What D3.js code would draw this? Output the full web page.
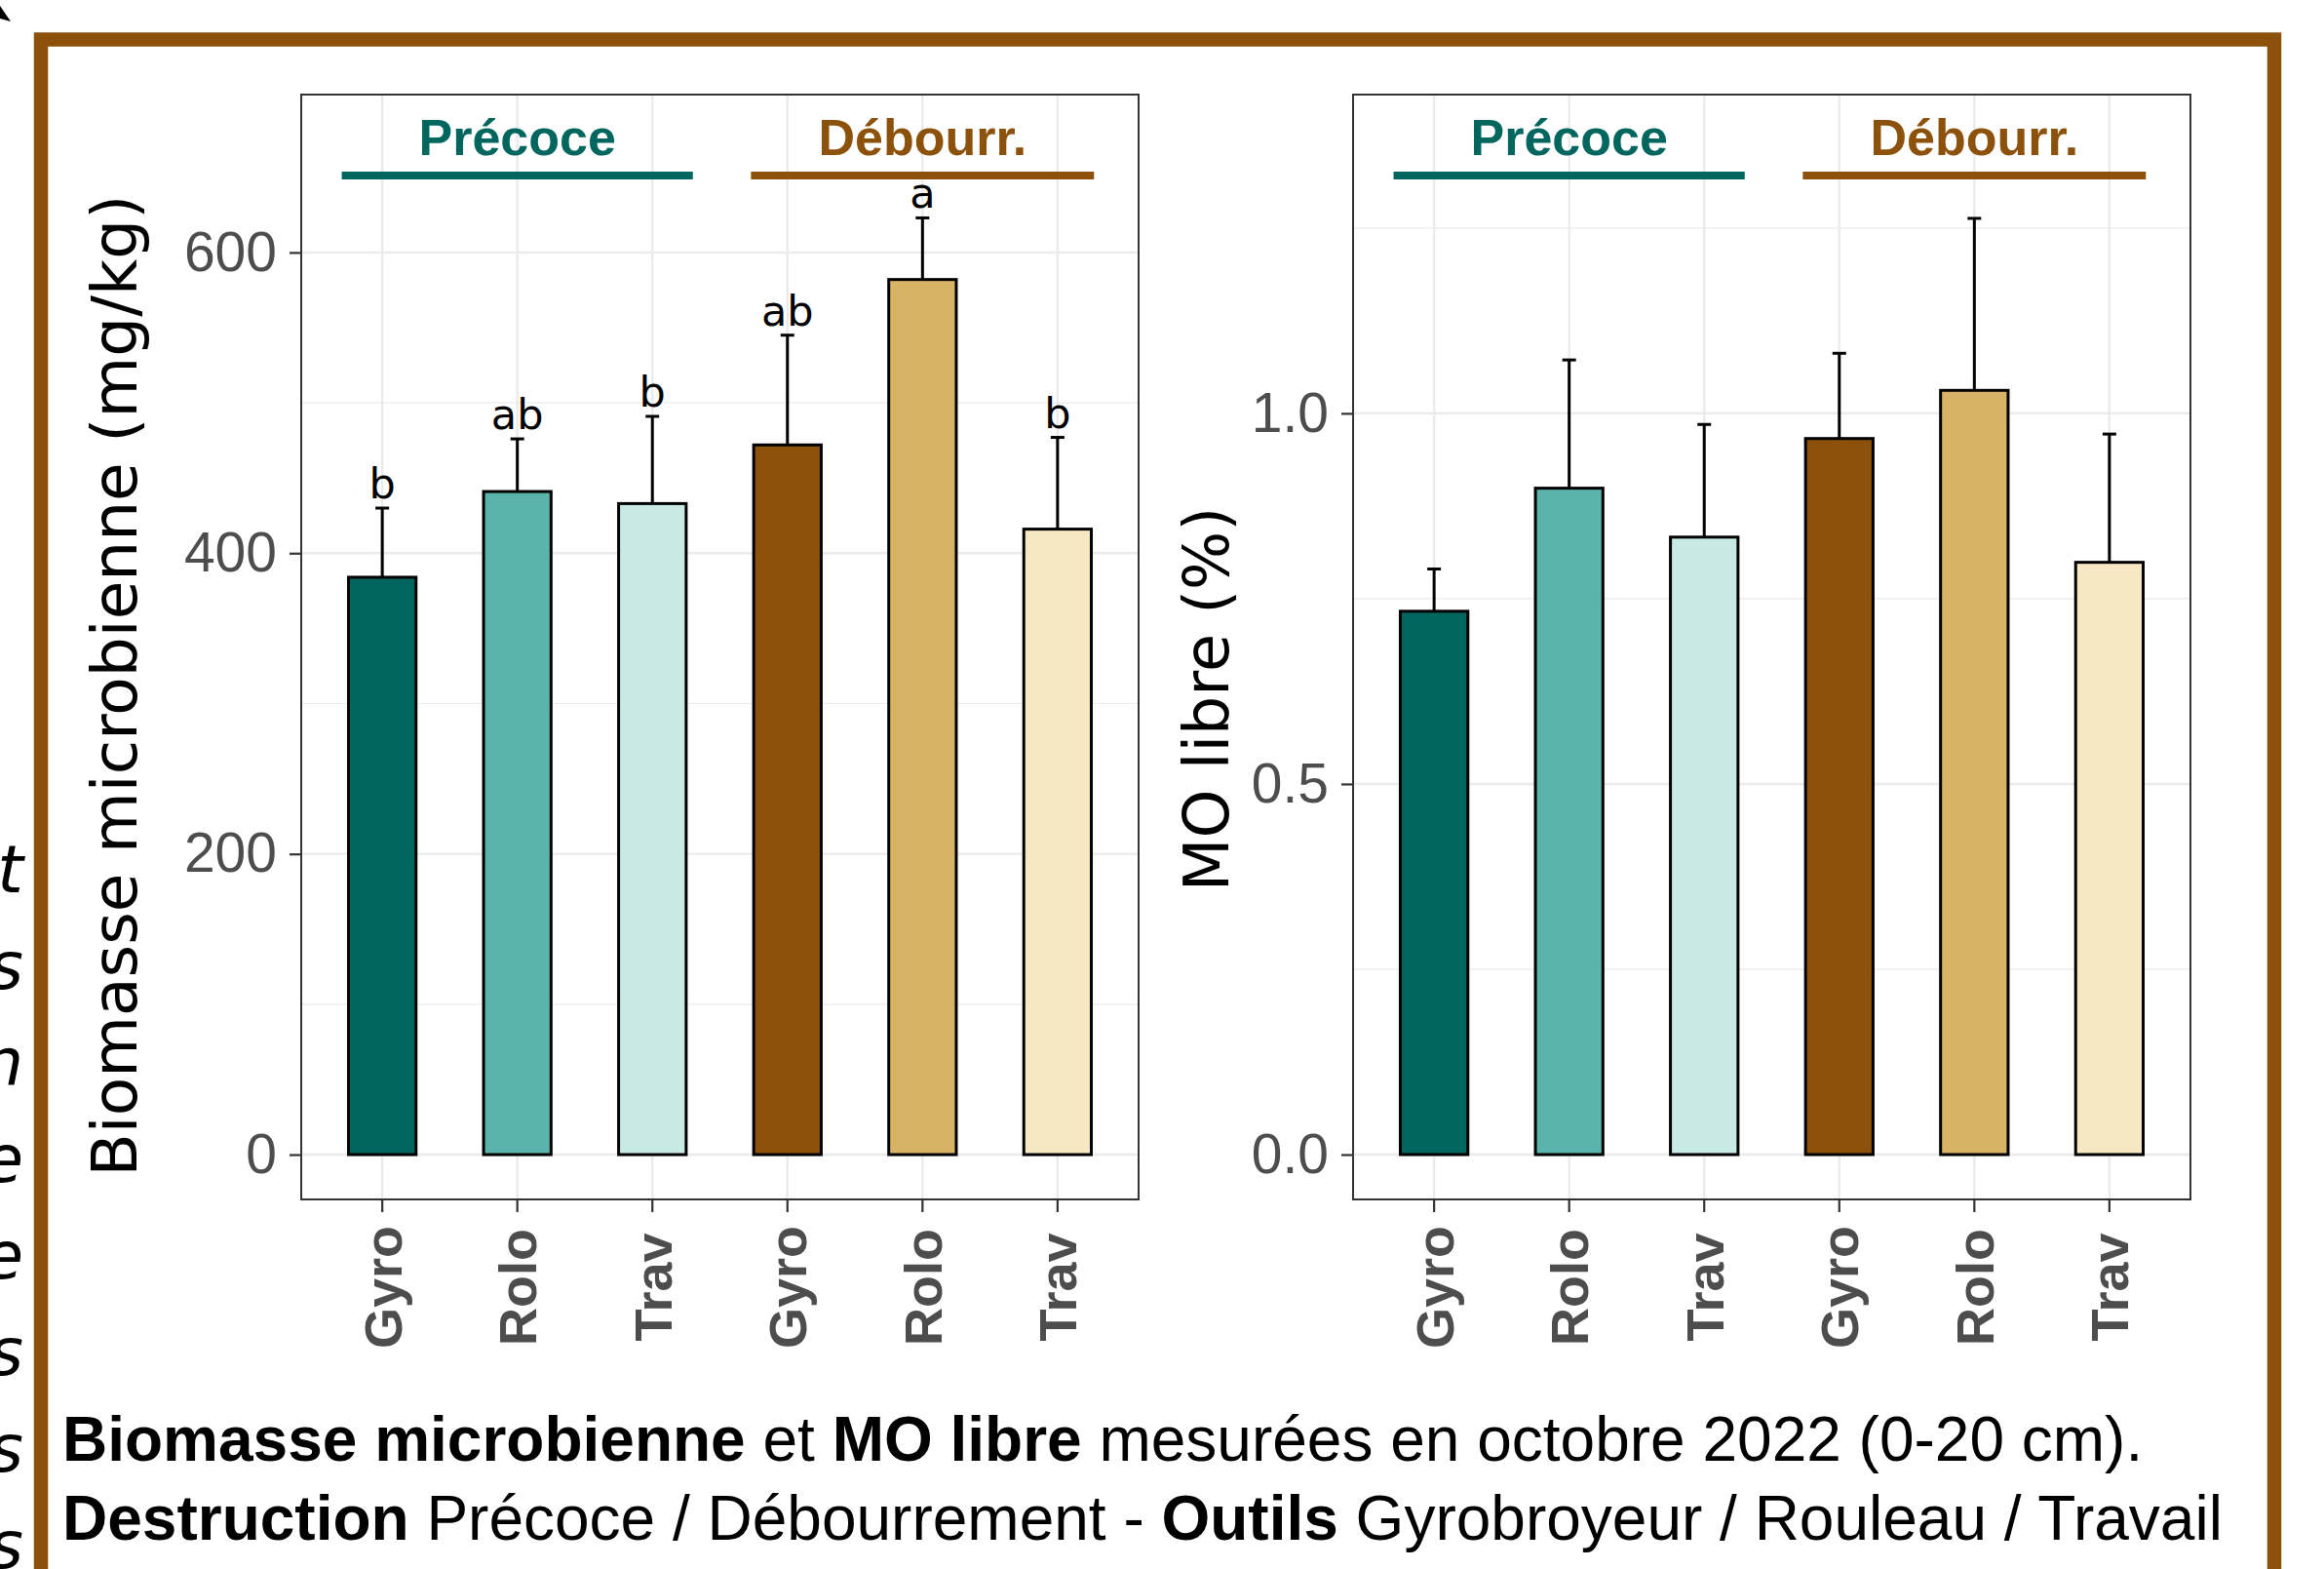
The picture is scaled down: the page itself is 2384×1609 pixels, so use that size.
<!DOCTYPE html>
<html>
<head>
<meta charset="utf-8">
<script src="https://cdn.jsdelivr.net/npm/d3@7"></script>
<style>
  body { margin: 0; background: #fff; }
  svg { display: block; }
</style>
</head>
<body>
<script>
// --- data ---
const groups = ['Précoce', 'Débourr.'];
const tools = ['Gyro', 'Rolo', 'Trav'];
const biomasseMean = [384, 441, 433, 472, 582, 416];
const biomasseUpper = [430, 476, 491, 545, 623, 477];
const moLibreMean = [0.733, 0.899, 0.833, 0.966, 1.031, 0.799];
const moLibreUpper = [0.79, 1.072, 0.985, 1.081, 1.263, 0.972];
const letters = ['b', 'ab', 'b', 'ab', 'a', 'b'];
const fills = ['#01665E', '#5AB4AC', '#C7EAE5', '#8C510A', '#D8B365', '#F6E8C3'];
const groupColors = ['#01665E', '#8C510A'];
const biomasseTicks = [0, 200, 400, 600];
const biomasseMinor = [100, 300, 500];
const moTicks = [0, 0.5, 1.0];
const moMinor = [0.25, 0.75, 1.25];
// bits of the neighbouring text cut by the left edge
const strayChars = ['t', 's', 'n', 'e', 'e', 's', 's', 's'];

const W = 2384, H = 1609;
const keys = [];
groups.forEach((g) => tools.forEach((t) => keys.push({ group: g, tool: t, id: g + '-' + t })));

const svg = d3.select('body').append('svg').attr('width', W).attr('height', H).style('background', '#fff');

// brown frame (open at the bottom, cut by the image)
svg.append('path')
  .attr('d', 'M42,1640 V40.5 H2333 V1640')
  .attr('fill', 'none').attr('stroke', '#8C510A').attr('stroke-width', 14.5);

// arrow head in the corner
svg.append('path').attr('d', 'M0,6 L11,22 L0,19 Z').attr('fill', '#000');

svg.selectAll('text.stray').data(strayChars).enter().append('text')
  .attr('class', 'stray')
  .attr('x', 24)
  .attr('y', (d, i) => 915 + i * 99)
  .attr('text-anchor', 'end')
  .style('font-family', 'DejaVu Sans')
  .style('font-style', 'italic')
  .style('font-size', '68px')
  .text((d) => d);

function drawPanel(opt) {
  const pw = 859, ph = 1133;
  const g = svg.append('g').attr('transform', `translate(${opt.left},97)`);

  const x = d3.scaleBand().domain(keys.map((d) => d.id)).range([0, pw]).paddingInner(0.5).paddingOuter(0.35);
  const y = d3.scaleLinear().domain(opt.domain).range([ph, 0]);

  // grid
  g.selectAll('line.minor').data(opt.minor).enter().append('line')
    .attr('x1', 0).attr('x2', pw).attr('y1', (d) => y(d)).attr('y2', (d) => y(d))
    .attr('stroke', '#EBEBEB').attr('stroke-width', 1.2);
  g.selectAll('line.major').data(opt.ticks).enter().append('line')
    .attr('x1', 0).attr('x2', pw).attr('y1', (d) => y(d)).attr('y2', (d) => y(d))
    .attr('stroke', '#EBEBEB').attr('stroke-width', 2.4);
  g.selectAll('line.vgrid').data(keys).enter().append('line')
    .attr('x1', (d) => x(d.id) + x.bandwidth() / 2).attr('x2', (d) => x(d.id) + x.bandwidth() / 2)
    .attr('y1', 0).attr('y2', ph)
    .attr('stroke', '#EBEBEB').attr('stroke-width', 2.4);

  const rows = keys.map((k, i) => ({ ...k, mean: opt.mean[i], upper: opt.upper[i], fill: fills[i], letter: opt.letters ? opt.letters[i] : null }));

  // error bars (upper only)
  const eb = g.selectAll('g.eb').data(rows).enter().append('g')
    .attr('transform', (d) => `translate(${x(d.id) + x.bandwidth() / 2},0)`);
  eb.append('line').attr('x1', 0).attr('x2', 0).attr('y1', (d) => y(d.mean)).attr('y2', (d) => y(d.upper))
    .attr('stroke', '#000').attr('stroke-width', 3);
  eb.append('line').attr('x1', -7).attr('x2', 7).attr('y1', (d) => y(d.upper)).attr('y2', (d) => y(d.upper))
    .attr('stroke', '#000').attr('stroke-width', 3);

  // bars
  g.selectAll('rect.bar').data(rows).enter().append('rect')
    .attr('x', (d) => x(d.id)).attr('width', x.bandwidth())
    .attr('y', (d) => y(d.mean)).attr('height', (d) => y(0) - y(d.mean))
    .attr('fill', (d) => d.fill).attr('stroke', '#000').attr('stroke-width', 3);

  if (opt.letters) {
    g.selectAll('text.sig').data(rows).enter().append('text')
      .attr('x', (d) => x(d.id) + x.bandwidth() / 2)
      .attr('y', (d) => y(d.upper) - 10)
      .attr('text-anchor', 'middle')
      .style('font-family', 'DejaVu Sans')
      .style('font-size', '43px')
      .text((d) => d.letter);
  }

  // group headers
  const halfSpan = [1.3, 1.27];
  groups.forEach((grp, gi) => {
    const ids = keys.filter((k) => k.group === grp).map((k) => k.id);
    const c0 = x(ids[0]) + x.bandwidth() / 2, c1 = x(ids[ids.length - 1]) + x.bandwidth() / 2;
    const mid = (c0 + c1) / 2;
    g.append('line')
      .attr('x1', mid - halfSpan[gi] * x.step()).attr('x2', mid + halfSpan[gi] * x.step())
      .attr('y1', 83).attr('y2', 83)
      .attr('stroke', groupColors[gi]).attr('stroke-width', 8);
    g.append('text')
      .attr('x', mid).attr('y', 62)
      .attr('text-anchor', 'middle')
      .attr('fill', groupColors[gi])
      .style('font-family', 'Liberation Sans, Arial')
      .style('font-weight', 'bold')
      .style('font-size', '52px')
      .text(grp);
  });

  // panel border
  g.append('rect').attr('width', pw).attr('height', ph)
    .attr('fill', 'none').attr('stroke', '#333').attr('stroke-width', 2);

  // y axis
  const ya = g.append('g').call(d3.axisLeft(y).tickValues(opt.ticks).tickSize(12).tickPadding(13).tickFormat(opt.fmt));
  ya.select('.domain').remove();
  ya.selectAll('line').attr('stroke', '#333').attr('stroke-width', 2.2);
  ya.selectAll('text').attr('fill', '#4D4D4D')
    .style('font-family', 'Liberation Sans, Arial').style('font-size', '57px');

  // x axis
  const xa = g.append('g').attr('transform', `translate(0,${ph})`)
    .call(d3.axisBottom(x).tickSize(13).tickFormat((id) => keys.find((k) => k.id === id).tool));
  xa.select('.domain').remove();
  xa.selectAll('line').attr('stroke', '#333').attr('stroke-width', 2.2);
  xa.selectAll('text')
    .attr('y', 0).attr('dy', '0.36em')
    .attr('transform', 'translate(0,90) rotate(-90)')
    .attr('text-anchor', 'middle')
    .attr('fill', '#4D4D4D')
    .style('font-family', 'Liberation Sans, Arial').style('font-weight', 'bold').style('font-size', '54px');

  // y title
  svg.append('text')
    .attr('transform', `translate(${opt.titleX},${opt.titleY}) rotate(-90)`)
    .attr('text-anchor', 'middle')
    .style('font-family', 'DejaVu Sans').style('font-size', opt.titleSize)
    .text(opt.title);
}

drawPanel({
  left: 309, domain: [-29.8, 705], ticks: biomasseTicks, minor: biomasseMinor,
  mean: biomasseMean, upper: biomasseUpper, letters: letters,
  fmt: d3.format('d'), title: 'Biomasse microbienne (mg/kg)', titleX: 140, titleY: 703, titleSize: '64.5px',
});
drawPanel({
  left: 1388, domain: [-0.0605, 1.43], ticks: moTicks, minor: moMinor,
  mean: moLibreMean, upper: moLibreUpper, letters: null,
  fmt: d3.format('.1f'), title: 'MO libre (%)', titleX: 1260, titleY: 717, titleSize: '63.5px',
});

// caption
const cap = svg.append('g').style('font-family', 'Liberation Sans, Arial').style('font-size', '64px');
const line1 = cap.append('text').attr('x', 64).attr('y', 1498);
line1.append('tspan').style('font-weight', 'bold').text('Biomasse microbienne');
line1.append('tspan').text(' et ');
line1.append('tspan').style('font-weight', 'bold').text('MO libre');
line1.append('tspan').text(' mesurées en octobre 2022 (0-20 cm).');
const line2 = cap.append('text').attr('x', 64).attr('y', 1579);
line2.append('tspan').style('font-weight', 'bold').text('Destruction');
line2.append('tspan').text(' Précoce / Débourrement - ');
line2.append('tspan').style('font-weight', 'bold').text('Outils');
line2.append('tspan').text(' Gyrobroyeur / Rouleau / Travail');
</script>
</body>
</html>
